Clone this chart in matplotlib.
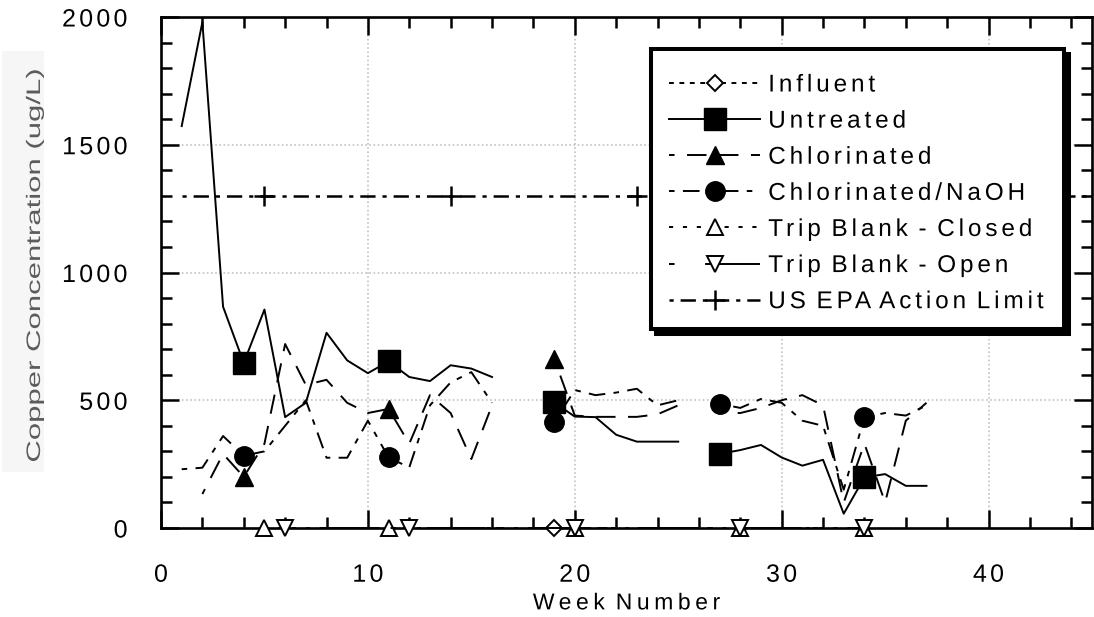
import numpy as np
import matplotlib
matplotlib.use("Agg")
import matplotlib.pyplot as plt
from matplotlib.ticker import MultipleLocator
from matplotlib.patches import Rectangle
from matplotlib.patheffects import AbstractPathEffect
from matplotlib.path import Path

plt.rcParams['font.family'] = ['Liberation Sans', 'DejaVu Sans']
plt.rcParams['lines.scale_dashes'] = False

nan = np.nan

# ---------------- data ----------------
weeks = [1, 2, 3, 4, 5, 6, 7, 8, 9, 10, 11, 12, 13, 14, 15, 16, nan,
         19, 20, 21, 22, 23, 24, 25, nan,
         27, 28, 29, 30, 31, 32, 33, 34, 35, 36, 37]

untreated = [1573, 1980, 866, 646, 855, 434, 490, 764, 656, 606, 652, 591, 575, 637, 624, 591, nan,
             492, 436, 434, 365, 338, 338, 338, nan,
             290, 305, 325, 276, 244, 267, 56, 198, 211, 165, 165]
untreated_marker_weeks = [4, 11, 19, 27, 34]

chlorinated = [nan, 133, 290, 200, 330, 720, 560, 580, 490, 450, 466, 330, 520, 450, 270, 480, nan,
               663, 440, 435, 435, 435, 445, 480, nan,
               450, 450, 470, 500, 520, 480, 100, 330, 100, 420, 490]
chlorinated_marker_weeks = [4, 11, 19]

chlor_naoh = [230, 236, 360, 283, 300, 400, 500, 275, 275, 420, 276, 237, 480, 570, 610, 490, nan,
              414, 540, 520, 530, 545, 480, 500, nan,
              486, 470, 505, 490, 420, 400, 150, 434, 450, 440, 480]
chlor_naoh_marker_weeks = [4, 11, 19, 27, 34]

influent_weeks = [19]
influent = [0]

trip_closed_weeks = [5, 11, 20, 28, 34]
trip_closed = [0, 0, 0, 0, 0]

trip_open_weeks = [6, 12, 20, 28, 34]
trip_open = [0, 0, 0, 0, 0]

epa_weeks = [1, 5, 14, 23, 32, 41, 45]
epa_limit = [1300, 1300, 1300, 1300, 1300, 1300, 1300]
epa_marker_weeks = [5, 14, 23, 32, 41]


# ---------------- letter-spacing effect (text stays real text) ----------------
class Tracked(AbstractPathEffect):
    def __init__(self, track=0.0, stretch=1.0, anchor='left'):
        super().__init__()
        self.track = track * 100.0      # text paths use 100 units per em
        self.stretch = stretch
        self.anchor = anchor

    def draw_path(self, renderer, gc, tpath, affine, rgbFace=None):
        verts = np.array(tpath.vertices, dtype=float)
        codes = tpath.codes
        if codes is None or len(verts) == 0:
            renderer.draw_path(gc, tpath, affine, rgbFace)
            return
        codes = np.asarray(codes)
        starts = list(np.flatnonzero(codes == Path.MOVETO))
        if not starts or starts[0] != 0:
            starts = [0] + starts
        bounds = starts + [len(verts)]
        real = codes != Path.CLOSEPOLY
        groups = []      # list of [xmax, [(a, b), ...]]
        for a, b in zip(bounds[:-1], bounds[1:]):
            m = real[a:b]
            if not m.any():
                if groups:
                    groups[-1][1].append((a, b))
                continue
            xs = verts[a:b][m, 0]
            x0, x1 = xs.min(), xs.max()
            if groups and x0 < groups[-1][0] - 3.0:
                groups[-1][0] = max(groups[-1][0], x1)
                groups[-1][1].append((a, b))
            else:
                groups.append([x1, [(a, b)]])
        n = len(groups)
        if self.anchor == 'center':
            ref = (n - 1) / 2.0
        elif self.anchor == 'right':
            ref = n - 1
        else:
            ref = 0.0
        xr = verts[real, 0]
        xmin, xmax = xr.min(), xr.max()
        if self.anchor == 'center':
            c = (xmin + xmax) / 2.0
        elif self.anchor == 'right':
            c = xmax
        else:
            c = xmin
        for k, (_, segs) in enumerate(groups):
            for a, b in segs:
                verts[a:b, 0] += self.track * (k - ref)
        verts[:, 0] = c + (verts[:, 0] - c) * self.stretch
        renderer.draw_path(gc, Path(verts, codes), affine, rgbFace)


# ---------------- figure ----------------
fig = plt.figure(figsize=(10.94, 6.17), dpi=100)
ax = fig.add_axes([161 / 1094, 1 - 528 / 617, 931 / 1094, 511 / 617])

# faint panel behind the y-axis title
fig.patches.append(Rectangle((2 / 1094, 1 - 472 / 617), 42 / 1094, 421 / 617,
                             transform=fig.transFigure, facecolor='#f6f6f6',
                             edgecolor='none', zorder=-1))

lw = 1.4


def idx(wk, marks):
    return [i for i, w in enumerate(wk) if w in marks]


ax.plot(influent_weeks, influent, color='black', lw=lw, linestyle=(0, (3.5, 4)),
        marker='D', ms=7.8, mfc='white', mec='black', mew=1.4,
        clip_on=False, zorder=6, label='Influent')
ax.plot(weeks, untreated, color='black', lw=lw, linestyle='-',
        marker='s', ms=16, mfc='black', mec='black',
        markevery=idx(weeks, untreated_marker_weeks), zorder=4, label='Untreated')
ax.plot(weeks, chlorinated, color='black', lw=lw, linestyle=(10, (14, 9)),
        marker='^', ms=13, mfc='black', mec='black',
        markevery=idx(weeks, chlorinated_marker_weeks), zorder=4, label='Chlorinated')
ax.plot(weeks, chlor_naoh, color='black', lw=lw, linestyle=(0, (4, 6, 12, 6)),
        marker='o', ms=14, mfc='black', mec='black',
        markevery=idx(weeks, chlor_naoh_marker_weeks), zorder=4, label='Chlorinated/NaOH')
ax.plot(trip_closed_weeks, trip_closed, color='black', lw=lw, linestyle=(0, (3, 7)),
        marker='^', ms=11.5, mfc='white', mec='black', mew=1.4,
        clip_on=False, zorder=6, label='Trip Blank - Closed')
ax.plot(trip_open_weeks, trip_open, color='black', lw=lw, linestyle=(0, (4, 22, 42, 8)),
        marker='v', ms=11.5, mfc='white', mec='black', mew=1.4,
        clip_on=False, zorder=6, label='Trip Blank - Open')
ax.plot(epa_weeks, epa_limit, color='black', lw=1.8, linestyle=(0, (3, 5, 11, 5)),
        marker='+', ms=15, mew=1.8,
        markevery=idx(epa_weeks, epa_marker_weeks), zorder=4, label='US EPA Action Limit')

# ---------------- axes styling ----------------
ax.set_xlim(0, 45)
ax.set_ylim(0, 2000)
ax.xaxis.set_major_locator(MultipleLocator(10))
ax.xaxis.set_minor_locator(MultipleLocator(2))
ax.yaxis.set_major_locator(MultipleLocator(500))
ax.yaxis.set_minor_locator(MultipleLocator(100))

ax.tick_params(which='both', direction='in', top=True, right=True, width=1.8, colors='black')
ax.tick_params(which='major', length=13)
ax.tick_params(which='minor', length=8)
ax.tick_params(axis='x', which='major', pad=25, labelsize=18)
ax.tick_params(axis='y', which='major', pad=24, labelsize=18)

for sp in ax.spines.values():
    sp.set_linewidth(1.9)
    sp.set_zorder(5)

ax.grid(True, which='major', color='#bdbdbd', linestyle=(0, (1.2, 1.8)), linewidth=1.1)
ax.set_axisbelow(True)

xl = ax.set_xlabel('Week Number', fontsize=16.5)
ax.xaxis.set_label_coords(0.5, -0.124)
xl.set_path_effects([Tracked(track=0.2, anchor='center')])

yl = ax.set_ylabel('Copper Concentration (ug/L)', fontsize=14, color='#5c5c5c')
ax.yaxis.set_label_coords(-0.1257, 0.515)
yl.set_path_effects([Tracked(stretch=1.6, anchor='center')])
yl.set_zorder(5)

# legend frame with a solid drop shadow
fx0, fy0, fx1, fy1 = 0.5263, 0.3894, 0.9699, 0.938
ax.add_patch(Rectangle((fx0 + 0.0054, fy0 - 0.0098), fx1 - fx0, fy1 - fy0,
                       transform=ax.transAxes, facecolor='black', edgecolor='black',
                       lw=2.9, zorder=7.9, clip_on=False))
ax.add_patch(Rectangle((fx0, fy0), fx1 - fx0, fy1 - fy0,
                       transform=ax.transAxes, facecolor='white', edgecolor='black',
                       lw=2.9, zorder=8, clip_on=False))

leg = ax.legend(loc='upper left', bbox_to_anchor=(0.5457, 0.8875), borderaxespad=0,
                borderpad=0, frameon=False, fontsize=17.5, handlelength=3.75,
                handletextpad=0.33, labelspacing=0.58)
leg.set_zorder(10)
for t in leg.get_texts():
    t.set_path_effects([Tracked(track=0.16, anchor='left')])

fig.canvas.draw()
for t in ax.get_xticklabels():
    t.set_path_effects([Tracked(track=0.13, anchor='center')])
for t in ax.get_yticklabels():
    t.set_path_effects([Tracked(track=0.13, anchor='right')])

fig.savefig('out.png', dpi=100)
